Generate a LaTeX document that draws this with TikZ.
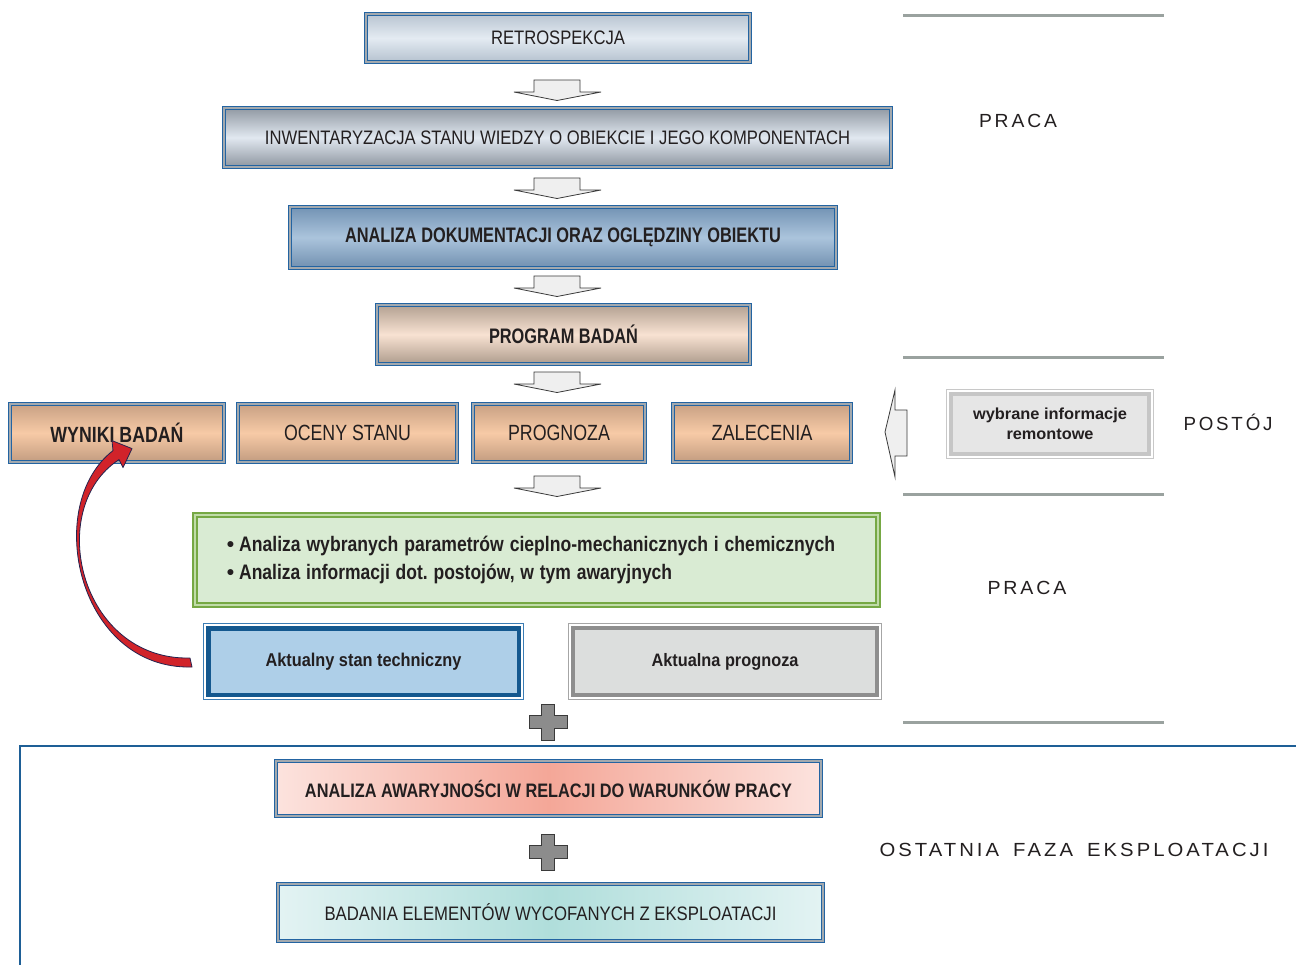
\documentclass[tikz,border=0pt]{standalone}
\usepackage{fontspec}
\setmainfont{Liberation Sans}
\newfontfamily\spacedfont[LetterSpace=15]{Liberation Sans}
\usepackage{graphicx}
\usetikzlibrary{calc}
\newcommand\fw[2]{\resizebox{#1}{\height}{#2}}

\definecolor{tc}{HTML}{231F20}
\definecolor{bblue}{HTML}{2364A2}
\definecolor{dgray}{HTML}{A3A9AE}
\definecolor{reA}{HTML}{B8C4D1}\definecolor{reB}{HTML}{E4EBF2}\definecolor{reC}{HTML}{B5C2CF}
\definecolor{inA}{HTML}{9199A3}\definecolor{inB}{HTML}{E1E8F0}\definecolor{inC}{HTML}{8E96A0}
\definecolor{adA}{HTML}{7393B4}\definecolor{adB}{HTML}{ABC4DC}\definecolor{adC}{HTML}{7190B0}
\definecolor{pgA}{HTML}{B3A192}\definecolor{pgB}{HTML}{F8E2D2}\definecolor{pgC}{HTML}{AE9C8D}
\definecolor{peA}{HTML}{C8A184}\definecolor{peB}{HTML}{F7CAA6}\definecolor{peC}{HTML}{C29C80}
\definecolor{awA}{HTML}{FCE3DE}\definecolor{awB}{HTML}{F4A798}
\definecolor{bdA}{HTML}{E3F3F3}\definecolor{bdB}{HTML}{B0DEDB}
\definecolor{grF}{HTML}{D9EBD3}\definecolor{grL}{HTML}{76A844}\definecolor{grD}{HTML}{C0DBA8}
\definecolor{stF}{HTML}{AECFE8}\definecolor{stL}{HTML}{14588F}\definecolor{stT}{HTML}{3C7DB5}
\definecolor{p2F}{HTML}{DCDEDD}\definecolor{p2L}{HTML}{8E8E8E}\definecolor{p2T}{HTML}{A6A6A6}
\definecolor{wbF}{HTML}{E6E6E6}\definecolor{wbL}{HTML}{C6C6C6}\definecolor{wbT}{HTML}{C8C8C8}
\definecolor{sepc}{HTML}{9AA29F}
\definecolor{frc}{HTML}{1E5F96}
\definecolor{redc}{HTML}{D1232A}
\definecolor{navc}{HTML}{23234F}
\definecolor{arF}{HTML}{EFEFEF}
\definecolor{arL}{HTML}{3A3A3A}
\definecolor{plF}{HTML}{8C8C8C}

\tikzset{
  dbl/.style={draw=bblue, line width=1.3pt, double=dgray, double distance=1.5pt,
    inner sep=0pt, text=tc},
  vgrad/.style n args={3}{top color=#1, bottom color=#3, middle color=#2},
  hgrad/.style n args={2}{left color=#1, right color=#1, middle color=#2},
  fA/.style={font=\fontsize{19.5}{23}\selectfont},
  fB/.style={font=\fontsize{21}{25}\selectfont\bfseries},
  fC/.style={font=\fontsize{22}{26}\selectfont},
  fCb/.style={font=\fontsize{22}{26}\selectfont\bfseries},
  fD/.style={font=\fontsize{18.5}{22}\selectfont\bfseries},
  spaced/.style={font=\fontsize{19}{22}\spacedfont, text=tc, inner sep=0pt},
  sepline/.style={draw=sepc, line width=3pt},
  arrowst/.style={fill=arF, draw=arL, line width=0.8pt, line join=miter},
  plusst/.style={fill=plF, draw=arL, line width=0.8pt},
  redarrow/.style={fill=redc, draw=navc, line width=0.8pt, line join=round},
  darr/.pic={\path[arrowst] (-23,0) -- (23,0) -- (23,12) -- (44,12) -- (0,20.5) -- (-43,12) -- (-23,12) -- cycle;},
  plus/.pic={\path[plusst] (-6.5,-18) -- (6.5,-18) -- (6.5,-6.5) -- (19,-6.5) -- (19,6.5) -- (6.5,6.5) -- (6.5,18) -- (-6.5,18) -- (-6.5,6.5) -- (-19,6.5) -- (-19,-6.5) -- (-6.5,-6.5) -- cycle;}
}

\begin{document}
\begin{tikzpicture}[x=1pt, y=-1pt]
\useasboundingbox[fill=white] (0,0) rectangle (1296,964);

% separators on the right
\draw[sepline] (903,15) -- (1164,15);
\draw[sepline] (903,357) -- (1164,357);
\draw[sepline] (903,494) -- (1164,494);
\draw[sepline] (903,722) -- (1164,722);

% right labels
\node[spaced] (praca1) at (1018,121) {\fw{78pt}{PRACA}};
\node[spaced] (postoj) at (1228,422) {\fw{89pt}{POSTÓJ}};
\node[spaced] (praca2) at (1027,588) {\fw{79pt}{PRACA}};
\node[spaced] (ostat) at (1074,850) {\fw{389pt}{OSTATNIA\hspace{5pt} FAZA\hspace{5pt} EKSPLOATACJI}};

% main column
\node[dbl, fA, vgrad={reA}{reB}{reC}, minimum width=383.9pt, minimum height=47.9pt] (retro) at (558,38) {\fw{134pt}{RETROSPEKCJA}};
\node[dbl, fA, vgrad={inA}{inB}{inC}, minimum width=666.9pt, minimum height=58.9pt] (invent) at (557.5,137.5) {\fw{585pt}{INWENTARYZACJA STANU WIEDZY O OBIEKCIE I JEGO KOMPONENTACH}};
\node[dbl, fB, vgrad={adA}{adB}{adC}, minimum width=545.9pt, minimum height=60.9pt] (anadok) at (563,237.5) {\fw{436pt}{ANALIZA DOKUMENTACJI ORAZ OGLĘDZINY OBIEKTU}};
\node[dbl, fB, vgrad={pgA}{pgB}{pgC}, minimum width=372.9pt, minimum height=58.9pt] (program) at (563.5,334.5) {\fw{149pt}{PROGRAM BADAŃ}};

\node[dbl, fCb, vgrad={peA}{peB}{peC}, minimum width=213.9pt, minimum height=57.9pt] (wyniki) at (117,433) {\fw{133pt}{WYNIKI BADAŃ}};
\node[dbl, fC, vgrad={peA}{peB}{peC}, minimum width=218.9pt, minimum height=57.9pt] (oceny) at (347.5,433) {\fw{127pt}{OCENY STANU}};
\node[dbl, fC, vgrad={peA}{peB}{peC}, minimum width=171.9pt, minimum height=57.9pt] (prognoza) at (559,433) {\fw{102pt}{PROGNOZA}};
\node[dbl, fC, vgrad={peA}{peB}{peC}, minimum width=177.9pt, minimum height=57.9pt] (zalecenia) at (762,433) {\fw{101pt}{ZALECENIA}};

% repair info box
\node[draw=wbL, line width=3.6pt, fill=wbF, text=tc, inner sep=0pt, align=center,
      font=\fontsize{16}{20}\selectfont\bfseries,
      minimum width=198.4pt, minimum height=60.4pt] (wybr) at (1050,424)
      {\fw{154pt}{wybrane informacje}\\\fw{87pt}{remontowe}};
\draw[draw=wbT, line width=1pt] ($(wybr.north west)+(-2.5,-2.5)$) rectangle ($(wybr.south east)+(2.5,2.5)$);

% left block arrow
\path[arrowst] (907,410) -- (895,410) -- (895,390) -- (885,432) -- (895,477) -- (895,456) -- (907,456) -- cycle;

% green box
\node[draw=grL, line width=1.8pt, double=grD, double distance=2pt, fill=grF, text=tc,
      minimum width=683.4pt, minimum height=90.4pt, inner ysep=0pt, inner xsep=32pt,
      text width=619.4pt, align=left, font=\fontsize{21}{28}\selectfont\bfseries] (green) at (536.5,560)
  {\textbullet\hspace{5pt}\fw{596pt}{Analiza wybranych parametrów cieplno-mechanicznych i chemicznych}\\
   \textbullet\hspace{5pt}\fw{433pt}{Analiza informacji dot.\ postojów, w tym awaryjnych}};

% current state boxes
\node[draw=stL, line width=4.5pt, fill=stF, text=tc, inner sep=0pt, fD,
      minimum width=310.5pt, minimum height=66.5pt] (stan) at (363.5,661.5) {\fw{196pt}{Aktualny stan techniczny}};
\draw[draw=stT, line width=1pt] ($(stan.north west)+(-2.5,-2.5)$) rectangle ($(stan.south east)+(2.5,2.5)$);
\node[draw=p2L, line width=3.8pt, fill=p2F, text=tc, inner sep=0pt, font=\fontsize{18}{22}\selectfont\bfseries,
      minimum width=304.2pt, minimum height=67.2pt] (aprog) at (725,661.5) {\fw{147pt}{Aktualna prognoza}};
\draw[draw=p2T, line width=1pt] ($(aprog.north west)+(-2.5,-2.5)$) rectangle ($(aprog.south east)+(2.5,2.5)$);

% last phase frame
\draw[draw=frc, line width=2.5pt] (1300,746) -- (20,746) -- (20,968);

\node[dbl, font=\fontsize{19.5}{23}\selectfont\bfseries, hgrad={awA}{awB}, minimum width=544.9pt, minimum height=54.9pt] (awary) at (548.5,788.5) {\fw{487pt}{ANALIZA AWARYJNOŚCI W RELACJI DO WARUNKÓW PRACY}};
\node[dbl, fA, hgrad={bdA}{bdB}, minimum width=544.9pt, minimum height=56.9pt] (badania) at (550.5,912.5) {\fw{452pt}{BADANIA ELEMENTÓW WYCOFANYCH Z EKSPLOATACJI}};

% block arrows between stages
\pic at (557,80) {darr};
\pic at (557,178) {darr};
\pic at (557,276) {darr};
\pic at (557,372) {darr};
\pic at (557,476) {darr};

% plus signs
\pic at (548,722) {plus};
\pic at (548,852) {plus};

% red curved arrow from current state back to results
\path (stan.west) coordinate (A0) (wyniki.south) coordinate (B0);
\path[redarrow] ($(A0)+(-14,5.5)$) .. controls ($(A0)+(-128,8.5)$) and ($(B0)+(-75,43)$) .. ($(B0)+(-4,-12)$)
  -- ($(B0)+(-5,-22)$) -- ($(B0)+(15,-14)$) -- ($(B0)+(6,5)$) -- ($(B0)+(2,-3)$)
  .. controls ($(B0)+(-73,46)$) and ($(A0)+(-126,-1)$) .. ($(A0)+(-16,-3.5)$) -- cycle;
\end{tikzpicture}
\end{document}
